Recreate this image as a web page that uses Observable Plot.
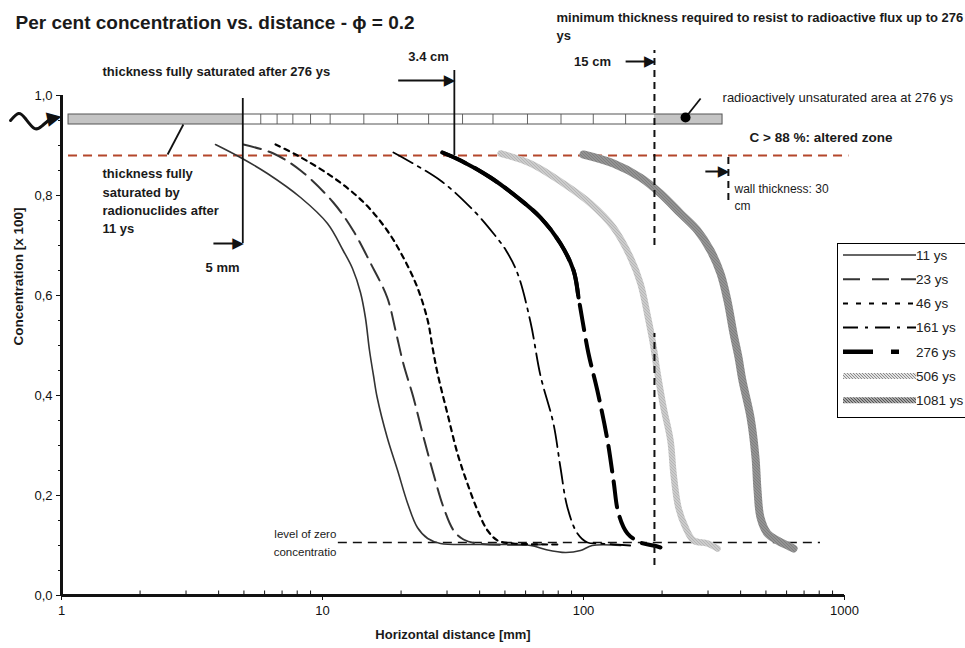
<!DOCTYPE html>
<html><head><meta charset="utf-8">
<script src="https://cdn.jsdelivr.net/npm/d3@7"></script>
<script src="https://cdn.jsdelivr.net/npm/@observablehq/plot@0.6"></script>
<style>
body{margin:0;background:#fff;overflow:hidden;}
#wrap{position:relative;width:965px;height:648px;font-family:"Liberation Sans",Arial,sans-serif;}
#legend{position:absolute;left:837px;top:243px;width:140px;height:175px;border:1.5px solid #000;background:#fff;box-sizing:border-box;}
</style></head><body><div id="wrap"></div>
<script>
// ---------- data ----------
const seriesNames = ["11 ys","23 ys","46 ys","161 ys","276 ys","506 ys","1081 ys"];

const dist11 = [3.89,4.85,6.15,8.24,10.45,12.0,13.03,13.98,14.6,15.14,15.68,16.2,17.7,19.4,21.2,23.1,25.3,28.3,40.3,62.7,71.5,85.3,97.4,108,139];
const conc11 = [0.902,0.876,0.844,0.796,0.744,0.69,0.654,0.606,0.556,0.49,0.44,0.396,0.316,0.25,0.184,0.136,0.114,0.104,0.102,0.10,0.092,0.086,0.09,0.10,0.10];

const dist23 = [4.98,6.49,8.24,11.0,13.1,15.3,17.7,19.05,20.4,22.3,24.4,26.6,29.1,31.8,34.7,39.3,68.4];
const conc23 = [0.902,0.884,0.85,0.786,0.73,0.664,0.596,0.53,0.464,0.396,0.316,0.244,0.176,0.13,0.112,0.104,0.102];

const dist46 = [6.61,8.02,11.0,14.4,17.7,20.4,23.1,25.3,26.4,27.6,30.1,32.9,35.9,39.3,42.9,46.9,53.9,81.6];
const conc46 = [0.902,0.88,0.836,0.786,0.73,0.676,0.616,0.55,0.496,0.444,0.364,0.284,0.224,0.17,0.13,0.11,0.104,0.102];

const dist161 = [18.7,28.3,37.9,45.2,50.5,55.9,62.7,68.4,76.7,81.6,86.8,94.8,103.6,116,151];
const conc161 = [0.886,0.83,0.77,0.724,0.69,0.644,0.546,0.44,0.344,0.256,0.176,0.124,0.106,0.104,0.10];

const dist276 = [28.8,33.8,44.0,55.9,68.4,81.6,91.6,95.7,99.1,104.5,113,123.6,130.3,136.2,147.4,165.3,185.4,197.2];
const conc276 = [0.886,0.87,0.836,0.796,0.756,0.704,0.65,0.596,0.55,0.484,0.41,0.31,0.23,0.164,0.124,0.106,0.10,0.096];

const dist506 = [48.1,62.7,83.8,106.4,130.3,151.4,165.3,176,183.8,192.2,202.6,215.4,221.2,231,246,264,298.5,326];
const conc506 = [0.884,0.864,0.824,0.784,0.736,0.676,0.624,0.56,0.51,0.444,0.376,0.31,0.244,0.176,0.136,0.11,0.104,0.094];

const dist1081 = [100,130.3,165.3,197.2,235.4,273.4,306.7,335,356,375.6,392.6,406.4,436.5,456,464.3,476.5,507,553.6,605,638];
const conc1081 = [0.882,0.864,0.836,0.804,0.764,0.73,0.69,0.644,0.59,0.524,0.476,0.43,0.356,0.276,0.21,0.156,0.124,0.11,0.10,0.094];

const xTicks = [1,10,100,1000];
const xMinor = [2,3,4,5,6,7,8,9,20,30,40,50,60,70,80,90,200,300,400,500,600,700,800,900];
const yTicks = [0,0.2,0.4,0.6,0.8,1.0];
const yMinor = [0.05,0.1,0.15,0.25,0.3,0.35,0.45,0.5,0.55,0.65,0.7,0.75,0.85,0.9,0.95];

// annotation values (mm / concentration)
const alteredLevel = 0.88;
const zeroLevel = 0.106;
const barCells = [5.8,6.7,7.7,9.0,10.7,14.4,19.4,25.5,34.4,45,61,82,109,145];
const barSpan = [{x1:1.064,x2:341,y1:0.942,y2:0.962}];
const barGray = [{x1:1.064,x2:4.95,y1:0.942,y2:0.962},{x1:187,x2:341,y1:0.942,y2:0.962}];
const solidMarkers = [{x:4.95,y1:0.704,y2:0.994},{x:32,y1:0.88,y2:1.05}];
const dashedMarkers = [{x:187,y1:0.70,y2:1.09},{x:187,y1:0.06,y2:0.524},{x:359,y1:0.79,y2:0.884}];
const arrowShafts = [{x1:3.82,x2:4.7,y:0.704},{x1:19.5,x2:30,y:1.03},{x1:145,x2:180,y:1.068},{x1:293,x2:345,y:0.848}];
const arrowHeads = [{x:4.95,y:0.704},{x:32,y:1.03},{x:187,y:1.068},{x:359,y:0.848}];
const pointers = [{x1:246,y1:0.956,x2:281,y2:0.994},{x1:2.55,y1:0.882,x2:2.93,y2:0.942}];
const pointerDot = [{x:246,y:0.956}];
const squiggle = [{x:0.638,y:0.95},{x:0.684,y:0.964},{x:0.727,y:0.954},{x:0.788,y:0.934},{x:0.846,y:0.94},{x:0.92,y:0.956}];
const squiggleHead = [{x:0.998,y:0.96}];

const notesBold = [
  {t:"thickness fully saturated after 276 ys", x:1.436, y:1.048},
  {t:"minimum thickness required to resist to radioactive flux up to 276", x:78.8, y:1.156},
  {t:"ys", x:78.8, y:1.12},
  {t:"thickness fully", x:1.436, y:0.844},
  {t:"saturated by", x:1.436, y:0.806},
  {t:"radionuclides after", x:1.436, y:0.77},
  {t:"11 ys", x:1.436, y:0.734}
];
const notesBoldMid = [
  {t:"3.4 cm", x:25.5, y:1.078},
  {t:"15 cm", x:108.3, y:1.068},
  {t:"5 mm", x:4.14, y:0.656}
];
const noteAltered = [{t:"C > 88 %: altered zone", x:432.5, y:0.916}];
const noteUnsat = [{t:"radioactively unsaturated area at 276 ys", x:341, y:0.996}];
const noteWall = [{t:"wall thickness: 30", x:379, y:0.812},{t:"cm", x:379, y:0.778}];
const noteZero = [{t:"level of zero", x:11.3, y:0.122},{t:"concentratio", x:11.3, y:0.086}];

// ---------- build ----------
const toRows = (name, xs, ys) => xs.map((x, i) => ({series: name, x, y: ys[i]}));
const rows = {
  "11 ys": toRows("11 ys", dist11, conc11),
  "23 ys": toRows("23 ys", dist23, conc23),
  "46 ys": toRows("46 ys", dist46, conc46),
  "161 ys": toRows("161 ys", dist161, conc161),
  "276 ys": toRows("276 ys", dist276, conc276),
  "506 ys": toRows("506 ys", dist506, conc506),
  "1081 ys": toRows("1081 ys", dist1081, conc1081)
};
const styles = {
  "11 ys": {stroke:"#333", strokeWidth:1.6},
  "23 ys": {stroke:"#333", strokeWidth:2, strokeDasharray:"18,8"},
  "46 ys": {stroke:"#000", strokeWidth:2.2, strokeDasharray:"5,5"},
  "161 ys": {stroke:"#000", strokeWidth:1.8, strokeDasharray:"22,6,3,6"},
  "276 ys": {stroke:"#000", strokeWidth:4, strokeDasharray:"26,10"},
  "506 ys": {stroke:"url(#stip506)", strokeWidth:6.5},
  "1081 ys": {stroke:"url(#stip1081)", strokeWidth:8}
};
const legendStyles = {
  "11 ys": {stroke:"#333", strokeWidth:1.6},
  "23 ys": {stroke:"#333", strokeWidth:2, strokeDasharray:"17,12"},
  "46 ys": {stroke:"#000", strokeWidth:2, strokeDasharray:"5,8"},
  "161 ys": {stroke:"#000", strokeWidth:2, strokeDasharray:"15,7,3,7"},
  "276 ys": {stroke:"#000", strokeWidth:4.5, strokeDasharray:"30,18,8,18"},
  "506 ys": {stroke:"url(#stip506)", strokeWidth:6},
  "1081 ys": {stroke:"url(#stip1081)", strokeWidth:6}
};

const defs = () => {
  const d = d3.create("svg:defs");
  const mk = (id, base, dot) => {
    const p = d.append("pattern").attr("id", id).attr("patternUnits", "userSpaceOnUse").attr("width", 3).attr("height", 3);
    p.append("rect").attr("width", 3).attr("height", 3).attr("fill", base);
    p.append("rect").attr("width", 1).attr("height", 1).attr("fill", dot);
    p.append("rect").attr("x", 1).attr("y", 1).attr("width", 1).attr("height", 1).attr("fill", dot);
    p.append("rect").attr("x", 2).attr("y", 2).attr("width", 1).attr("height", 1).attr("fill", dot);
  };
  mk("stip506", "#e2e2e2", "#8a8a8a");
  mk("stip1081", "#a8a8a8", "#555");
  return d.node();
};

const FONT = '"Liberation Sans", Arial, sans-serif';
const NARROW = '"Liberation Sans Narrow", "Arial Narrow", "Liberation Sans", sans-serif';
const TXT = "#1a1a1a";

const curveMarks = seriesNames.map(s => Plot.line(rows[s], {x:"x", y:"y", curve:"catmull-rom", ...styles[s]}));
// upper part of the 276 ys curve appears solid in the original
curveMarks.push(Plot.line(rows["276 ys"].filter(d => d.y >= 0.59), {x:"x", y:"y", curve:"catmull-rom", stroke:"#000", strokeWidth:4}));

const plot = Plot.plot({
  width: 965, height: 648,
  marginLeft: 61, marginRight: 121, marginTop: 95, marginBottom: 53,
  style: {fontFamily: FONT, fontSize: "13px", color: "#111", background: "#fff", overflow: "visible"},
  x: {type: "log", domain: [1, 1000]},
  y: {domain: [0, 1]},
  marks: [
    defs,
    // bar schematic
    Plot.rect(barSpan, {x1:"x1", x2:"x2", y1:"y1", y2:"y2", fill:"#fff"}),
    Plot.rect(barGray, {x1:"x1", x2:"x2", y1:"y1", y2:"y2", fill:"#c4c4c4"}),
    Plot.ruleX(barCells, {y1:0.942, y2:0.962, stroke:"#666", strokeWidth:1}),
    Plot.rect(barSpan, {x1:"x1", x2:"x2", y1:"y1", y2:"y2", fill:"none", stroke:"#555", strokeWidth:1}),
    // reference levels
    Plot.ruleY([alteredLevel], {x1:1.064, x2:1040, stroke:"#b4462b", strokeWidth:2, strokeDasharray:"9,6"}),
    Plot.ruleY([zeroLevel], {x1:11.5, x2:809, stroke:"#111", strokeWidth:1.6, strokeDasharray:"9,6"}),
    // axes
    Plot.axisY({ticks: yTicks, tickFormat: d => d.toFixed(1).replace(".", ","), tickSize: 5, tickPadding: 4, fontSize: 13}),
    Plot.axisY({ticks: yMinor, tickFormat: () => "", tickSize: 3}),
    Plot.axisX({ticks: xTicks, tickFormat: d => String(d), tickSize: 5, tickPadding: 5, fontSize: 13, fontFamily: NARROW}),
    Plot.ruleX(xMinor, {y1: 0, y2: 0.009, strokeWidth: 1}),
    Plot.ruleX([1], {y1: 0, y2: 1, strokeWidth: 3}),
    Plot.ruleY([0], {x1: 1, x2: 1000, strokeWidth: 3}),
    // curves
    ...curveMarks,
    // markers
    Plot.ruleX(solidMarkers, {x:"x", y1:"y1", y2:"y2", strokeWidth:1.8}),
    Plot.ruleX(dashedMarkers, {x:"x", y1:"y1", y2:"y2", strokeWidth:2, strokeDasharray:"7,5"}),
    Plot.link(arrowShafts, {x1:"x1", x2:"x2", y1:"y", y2:"y", strokeWidth:2}),
    Plot.text(arrowHeads, {x:"x", y:"y", text: () => "▶", textAnchor:"end", fontSize:15, fontFamily:"DejaVu Sans", dx:1}),
    Plot.link(pointers, {x1:"x1", x2:"x2", y1:"y1", y2:"y2", strokeWidth:1.8}),
    Plot.dot(pointerDot, {x:"x", y:"y", r:5, fill:"#000"}),
    Plot.line(squiggle, {x:"x", y:"y", curve:"natural", strokeWidth:3}),
    Plot.text(squiggleHead, {x:"x", y:"y", text: () => "▶", textAnchor:"end", fontSize:19, fontFamily:"DejaVu Sans", rotate:-12}),
    // texts
    Plot.text(notesBold, {x:"x", y:"y", text:"t", textAnchor:"start", fontSize:13, fontWeight:"bold", fill:TXT}),
    Plot.text(notesBoldMid, {x:"x", y:"y", text:"t", textAnchor:"middle", fontSize:13, fontWeight:"bold", fill:TXT}),
    Plot.text(noteAltered, {x:"x", y:"y", text:"t", textAnchor:"start", fontSize:13.5, fontWeight:"bold", fill:TXT}),
    Plot.text(noteUnsat, {x:"x", y:"y", text:"t", textAnchor:"start", fontSize:13, fill:TXT}),
    Plot.text(noteWall, {x:"x", y:"y", text:"t", textAnchor:"start", fontSize:12, fill:TXT}),
    Plot.text(noteZero, {x:"x", y:"y", text:"t", textAnchor:"end", fontSize:11.5, fill:TXT}),
    Plot.text(["Per cent concentration vs. distance - ϕ = 0.2"], {frameAnchor:"top-left", lineAnchor:"middle", dx:-46, dy:-73, textAnchor:"start", fontSize:19, fontWeight:"bold", fill:TXT}),
    Plot.text(["Horizontal distance [mm]"], {frameAnchor:"bottom", lineAnchor:"middle", dy:39, fontSize:13, fontWeight:"bold", fontFamily:NARROW, fill:TXT}),
    Plot.text(["Concentration [x 100]"], {frameAnchor:"left", dx:-43, rotate:-90, fontSize:13.5, fontWeight:"bold", fill:TXT})
  ]
});

const wrap = document.getElementById("wrap");
wrap.appendChild(plot);

// legend
const leg = d3.select(wrap).append("div").attr("id", "legend");
const lsvg = leg.append("svg").attr("width", 140).attr("height", 172)
  .style("font-family", FONT).style("font-size", "13.5px");
seriesNames.forEach((s, i) => {
  const yy = 11 + i * 24.2;
  const st = legendStyles[s];
  lsvg.append("line").attr("x1", 5).attr("x2", 78).attr("y1", yy).attr("y2", yy)
    .attr("stroke", st.stroke).attr("stroke-width", st.strokeWidth)
    .attr("stroke-dasharray", st.strokeDasharray || null);
  lsvg.append("text").attr("x", 78).attr("y", yy).attr("dy", "0.35em").attr("fill", "#222").text(s);
});
</script>
</body></html>
